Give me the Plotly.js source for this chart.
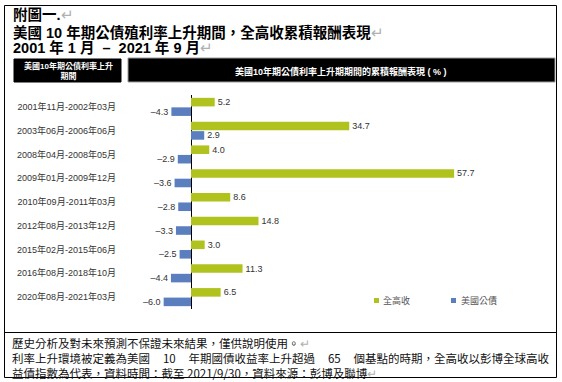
<!DOCTYPE html>
<html>
<head>
<meta charset="utf-8">
<script src="https://cdn.plot.ly/plotly-3.0.1.min.js"></script>
<style>html,body{margin:0;padding:0;background:#fff;}#chart{width:562px;height:382px;}</style>
</head>
<body>
<div id="chart"></div>
<script>
// ---- data ----
const periods = ["2001年11月-2002年03月", "2003年06月-2006年06月", "2008年04月-2008年05月", "2009年01月-2009年12月", "2010年09月-2011年03月", "2012年08月-2013年12月", "2015年02月-2015年06月", "2016年08月-2018年10月", "2020年08月-2021年03月"];
const globalHY = [5.2, 34.7, 4.0, 57.7, 8.6, 14.8, 3.0, 11.3, 6.5];
const usTreasury = [-4.3, 2.9, -2.9, -3.6, -2.8, -3.3, -2.5, -4.4, -6.0];
const seriesNames = ["全高收", "美國公債"];
const titleLines = ["附圖一.", "美國 10 年期公債殖利率上升期間，全高收累積報酬表現", "2001 年 1 月  –  2021 年 9 月"];
const headerLeft = ["美國10年期公債利率上升", "期間"];
const headerRight = "美國10年期公債利率上升期期間的累積報酬表現 ( % )";
const footerLines = ["歷史分析及對未來預測不保證未來結果，僅供說明使用。", "利率上升環境被定義為美國  10  年期國債收益率上升超過  65  個基點的時期，全高收以彭博全球高收", "益債指數為代表，資料時間：截至 2021/9/30，資料來源：彭博及聯博"];

// ---- style ----
const GREEN = "#AFC21E";
const BLUE = "#5A7EBE";
const FONT = "Liberation Sans, Arial, Noto Sans CJK TC, sans-serif";
const CJK = "Noto Sans CJK TC, Liberation Sans, sans-serif";
const W = 562, H = 382;
const M = {l: 125, r: 22, t: 95, b: 73};
const PW = W - M.l - M.r, PH = H - M.t - M.b;
const xp = px => (px - M.l) / PW;
const yp = py => (H - M.b - py) / PH;
const RET = '<span style="color:#b0b0b0;font-weight:normal">↵</span>';
const fmt = v => (v < 0 ? "–" : "") + Math.abs(v).toFixed(1);
const wide = (s, n) => s.replace(/ {2}/g, "\u00A0".repeat(n)).replace(/ /g, "\u00A0");

const traces = [
  {type: "bar", orientation: "h", name: seriesNames[0], y: periods, x: globalHY,
   marker: {color: GREEN}, text: globalHY.map(fmt), texttemplate: "%{text}", textposition: "outside",
   textfont: {family: FONT, size: 9, color: "#333"}, cliponaxis: false, constraintext: "none", hoverinfo: "skip"},
  {type: "bar", orientation: "h", name: seriesNames[1], y: periods, x: usTreasury,
   marker: {color: BLUE}, text: usTreasury.map(fmt), texttemplate: "%{text}", textposition: "outside",
   textfont: {family: FONT, size: 9, color: "#333"}, cliponaxis: false, constraintext: "none", hoverinfo: "skip"}
];

const ann = [];
const shapes = [];
function txt(text, x, y, opts) {
  ann.push(Object.assign({text: text, x: xp(x), y: yp(y), xref: "paper", yref: "paper",
    xanchor: "left", yanchor: "middle", showarrow: false, align: "left",
    font: {family: FONT, size: 12, color: "#000"}}, opts || {}));
}
function rect(x0, y0, x1, y1, opts) {
  shapes.push(Object.assign({type: "rect", xref: "paper", yref: "paper",
    x0: xp(x0), x1: xp(x1), y0: yp(y0), y1: yp(y1), line: {width: 0}}, opts || {}));
}
// outer frame and separator
rect(4.5, 5.5, 556.5, 377.5, {line: {color: "#000", width: 1}});
shapes.push({type: "line", xref: "paper", yref: "paper", x0: xp(4.5), x1: xp(556.5), y0: yp(332.5), y1: yp(332.5), line: {color: "#000", width: 1}});
// titles
txt("<b>" + titleLines[0] + "</b>" + RET, 11, 15, {font: {family: FONT, size: 14.5, color: "#000"}});
txt("<b>" + titleLines[1] + "</b>" + RET, 11, 32, {font: {family: FONT, size: 14.5, color: "#000"}});
txt("<b>" + wide(titleLines[2], 2) + "</b>" + RET, 11, 47.5, {font: {family: FONT, size: 14.5, color: "#000"}});
// header boxes
rect(14, 59, 121, 82, {fillcolor: "#000", line: {color: "#000", width: 1}});
rect(128, 58, 555, 82, {fillcolor: "#000", line: {color: "#9a9a9a", width: 1}});
txt("<b>" + headerLeft[0] + "<br>" + headerLeft[1] + "</b>", 68, 71, {xanchor: "center", align: "center",
  font: {family: FONT, size: 8, color: "#fff"}});
txt("<b>" + headerRight + "</b>", 341, 71, {xanchor: "center", font: {family: FONT, size: 9, color: "#fff"}});
// legend
rect(374, 298, 379, 303, {fillcolor: GREEN});
txt(seriesNames[0], 381, 300.5, {font: {family: CJK, size: 9, color: "#555"}});
rect(451, 298, 456, 303, {fillcolor: BLUE});
txt(seriesNames[1], 459, 300.5, {font: {family: CJK, size: 9, color: "#555"}});
// footer (one block, three lines)
txt(footerLines[0] + RET + "<br>" + wide(footerLines[1], 5) + "<br>" + footerLines[2] + RET, 10, 358,
  {font: {family: CJK, size: 11.5, color: "#111"}});

const layout = {
  width: W, height: H, margin: M,
  paper_bgcolor: "#fff", plot_bgcolor: "rgba(0,0,0,0)",
  barmode: "group", bargap: 0.2, bargroupgap: 0.1,
  showlegend: false,
  xaxis: {range: [-66 / 4.56, (PW - 66) / 4.56], showgrid: false, showticklabels: false, ticks: "",
          zeroline: true, zerolinecolor: "#000", zerolinewidth: 1, showline: false, fixedrange: true},
  yaxis: {type: "category", autorange: "reversed", showgrid: false, showline: false, ticks: "",
          zeroline: false, ticklabelstandoff: 8, tickfont: {family: FONT, size: 9, color: "#333"}, fixedrange: true},
  annotations: ann, shapes: shapes,
  font: {family: FONT}
};
Plotly.newPlot("chart", traces, layout, {staticPlot: true, displayModeBar: false});
</script>
</body>
</html>
